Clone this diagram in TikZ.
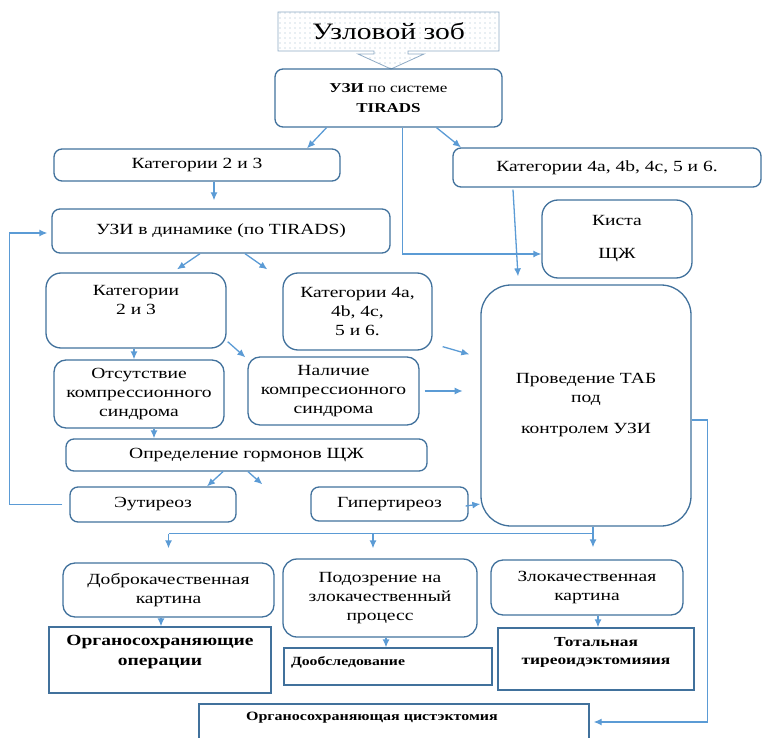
\documentclass[tikz,border=0pt]{standalone}
\usepackage{fontspec}
\setmainfont{Liberation Serif}[FakeStretch=1.26]
\usepackage{xcolor}
\usetikzlibrary{arrows.meta,positioning,calc,patterns.meta}
\definecolor{boxblue}{HTML}{41719C}
\definecolor{arrblue}{HTML}{5B9BD5}

\begin{document}
\begin{tikzpicture}[x=1pt, y=-1pt, >={Latex[length=8pt,width=7pt]}, line width=1.3pt,
    rbox/.style={draw=boxblue, rounded corners=8pt, align=center, inner sep=1pt, font=\fontsize{15.5}{19}\selectfont},
    sbox/.style={draw=boxblue, inner sep=1pt},
    btext/.style={align=center, inner sep=0pt, font=\bfseries\fontsize{15.5}{20}\selectfont},
    flow/.style={->, draw=arrblue},
    link/.style={draw=arrblue}]
    \useasboundingbox (0,0) rectangle (763,738);

    \path[draw=boxblue!60, line width=0.8pt, pattern={Dots[distance=5pt,radius=0.55pt]}, pattern color=boxblue!50]
      (278,12) -- (499,12) -- (499,51) -- (408,51) -- (408,54) -- (424,54) -- (391,69)
      -- (358,54) -- (374,54) -- (374,51) -- (278,51) -- cycle;
    \node (zob) at (388.5,31.5) [font=\fontsize{23.5}{26}\selectfont] {Узловой зоб};

    \node (uzi) at (388.5,98) [rbox, minimum width=227pt, minimum height=58pt, font=\fontsize{13.5}{20}\selectfont] {\textbf{УЗИ} по системе\\\textbf{TIRADS}};
    \node (kat23a) at (197,165) [rbox, minimum width=286pt, minimum height=32pt] {Категории 2 и 3};
    \node (kat4a) at (607,167.5) [rbox, minimum width=308pt, minimum height=39pt] {Категории 4a, 4b, 4c, 5 и 6.};
    \node (dyn) at (221,231) [rbox, minimum width=338pt, minimum height=44pt] {УЗИ в динамике (по TIRADS)};
    \node (kista) at (617,239) [rbox, rounded corners=16pt, minimum width=150pt, minimum height=78pt] {Киста\\[14pt]ЩЖ};
    \node (tab) at (586,405.5) [rbox, rounded corners=30pt, minimum width=210pt, minimum height=241pt] {Проведение ТАБ\\под\\[12pt]контролем УЗИ};

    \node (kat23b) at (136,310.5) [rbox, rounded corners=15pt, minimum width=180pt, minimum height=75pt] {};
    \node [rbox, draw=none, below=11pt of kat23b.north] {Категории\\2 и 3};
    \node (kat4b) at (357.5,311.5) [rbox, rounded corners=15pt, minimum width=149pt, minimum height=77pt] {Категории 4a,\\4b, 4c,\\5 и 6.};
    \node (otsut) at (139,394) [rbox, rounded corners=12pt, minimum width=170pt, minimum height=68pt] {Отсутствие\\компрессионного\\синдрома};
    \node (nalich) at (333.5,391) [rbox, rounded corners=12pt, minimum width=171pt, minimum height=68pt] {Наличие\\компрессионного\\синдрома};
    \node (opred) at (246.5,455) [rbox, minimum width=361pt, minimum height=32pt] {Определение гормонов ЩЖ};
    \node (eutir) at (153,504.5) [rbox, minimum width=166pt, minimum height=35pt] {Эутиреоз};
    \node (hyper) at (389.5,504) [rbox, minimum width=157pt, minimum height=34pt] {Гипертиреоз};

    \node (dobro) at (168.5,590) [rbox, rounded corners=12pt, minimum width=211pt, minimum height=54pt] {Доброкачественная\\картина};
    \node (podozr) at (380,598) [rbox, rounded corners=14pt, minimum width=194pt, minimum height=78pt] {Подозрение на\\злокачественный\\процесс};
    \node (zlok) at (587,587.5) [rbox, rounded corners=12pt, minimum width=192pt, minimum height=55pt] {Злокачественная\\картина};

    \node (organ) at (160,660) [sbox, minimum width=222pt, minimum height=66pt] {};
    \node [btext, below=8pt of organ.north] {Органосохраняющие\\операции};
    \node (doobs) at (388,666.5) [sbox, minimum width=208pt, minimum height=37pt] {};
    \node [btext, font=\bfseries\fontsize{12.5}{16}\selectfont, right=7pt of doobs.west, yshift=4pt] {Дообследование};
    \node (total) at (596,659) [sbox, minimum width=196pt, minimum height=62pt] {};
    \node [btext, font=\bfseries\fontsize{13.8}{18}\selectfont, below=9pt of total.north] {Тотальная\\тиреоидэктомияия};
    \node (cyst) at (394,727) [sbox, minimum width=390pt, minimum height=46pt] {};
    \node [btext, font=\bfseries\fontsize{12.7}{16}\selectfont, below=8pt of cyst.north, xshift=-22pt] {Органосохраняющая цистэктомия};

    \draw[flow] ([xshift=-62pt]uzi.south) -- ([xshift=110pt]kat23a.north);
    \draw[flow] ([xshift=48pt]uzi.south) -- ([xshift=-146pt]kat4a.north);
    \draw[flow] ([xshift=14pt]uzi.south) |- ([yshift=-15pt]kista.west);
    \draw[flow] ([xshift=17pt]kat23a.south) -- ([xshift=-7pt,yshift=8pt]dyn.north);
    \draw[flow] ([xshift=-21pt]dyn.south) -- ([xshift=41pt,yshift=3pt]kat23b.north);
    \draw[flow] ([xshift=24pt]dyn.south) -- ([xshift=-15pt,yshift=3pt]kat4b.north west);
    \draw[flow] ([xshift=-94pt,yshift=-2pt]kat4a.south) -- ([xshift=-68pt,yshift=8pt]tab.north);
    \draw[flow] ([xshift=-2pt]kat23b.south) -- ([xshift=-5pt]otsut.north);
    \draw[flow] ([xshift=1pt,yshift=7pt]kat23b.south east) -- ([xshift=-2pt,yshift=-1pt]nalich.north west);
    \draw[flow] ([xshift=10pt,yshift=4pt]kat4b.south east) -- ([xshift=-11pt,yshift=-70pt]tab.north west);
    \draw[flow] ([xshift=5pt]nalich.east) -- ($(nalich.east)+(43,0)$);
    \draw[flow] ([xshift=15pt]otsut.south) -- ([xshift=-92.5pt]opred.north);
    \draw[flow] ([xshift=-23.5pt]opred.south) -- ([xshift=54pt]eutir.north);
    \draw[flow] ([xshift=1.5pt]opred.south) -- ([xshift=-48pt,yshift=2pt]hyper.north west);
    \draw[flow] ([xshift=-3pt,yshift=-2pt]hyper.east) -- (tab.west |- hyper.east);
    \draw[flow] ([xshift=-7pt]eutir.west) -- ++(-53,0) |- ([xshift=-4pt,yshift=-2pt]dyn.west);

    \coordinate (split) at ([xshift=7pt,yshift=-7pt]tab.south);
    \draw[link] ([xshift=7pt]tab.south) -- (split) -- (split -| dobro.north);
    \draw[flow] (split -| dobro.north) -- ([yshift=14pt]dobro.north);
    \draw[flow] ([xshift=-7pt]split -| podozr.north) -- ([xshift=-7pt,yshift=10pt]podozr.north);
    \draw[flow] (split) -- ([yshift=12pt]split |- zlok.north);
    \draw[flow] ([xshift=-7.5pt]dobro.south) -- ([xshift=1pt]organ.north);
    \draw[flow] ([xshift=6pt]podozr.south) -- ([xshift=-2pt]doobs.north);
    \draw[flow] ([xshift=11pt]zlok.south) -- ([xshift=2pt]total.north);
    \draw[flow] ([yshift=-14.5pt]tab.east) -- ++(16,0) |- ([xshift=4pt,yshift=5pt]cyst.east);
\end{tikzpicture}
\end{document}
